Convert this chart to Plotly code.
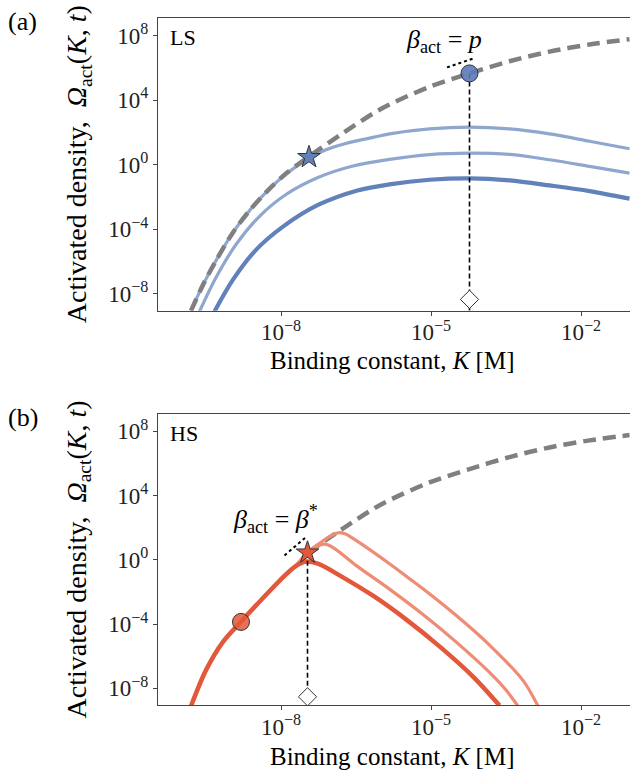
import numpy as np
import plotly.graph_objects as go

# ---------------- data (log10 values) ----------------
# envelope (gray dashed)
env_logK = [-9.80, -9.56, -9.30, -8.96, -8.63, -8.30, -7.90, -7.46, -6.74, -6.14, -5.83, -5.03, -4.23, -3.43, -2.63, -1.83, -1.03]
env_logO = [-9.05, -7.45, -5.95, -4.20, -2.85, -1.72, -0.55, 0.46, 2.00, 3.20, 3.72, 4.82, 5.65, 6.40, 7.00, 7.44, 7.77]

# LS panel (a)
ls_top_logK = [-9.80, -9.56, -9.30, -8.96, -8.63, -8.30, -7.90, -7.46, -7.10, -6.74, -6.14, -5.83, -5.03, -4.23, -3.43, -2.63, -1.83, -1.03]
ls_top_logO = [-9.05, -7.45, -5.95, -4.20, -2.85, -1.72, -0.58, 0.36, 0.92, 1.28, 1.70, 1.90, 2.21, 2.32, 2.21, 1.90, 1.45, 0.98]
ls_mid_logK = [-9.63, -9.30, -8.90, -8.43, -7.90, -7.26, -6.60, -5.83, -5.03, -4.23, -3.43, -2.63, -1.83, -1.03]
ls_mid_logO = [-9.10, -7.00, -4.95, -3.20, -1.85, -0.80, -0.12, 0.32, 0.62, 0.71, 0.63, 0.30, -0.11, -0.53]
ls_dark_logK = [-9.33, -8.96, -8.50, -7.96, -7.26, -6.47, -5.83, -5.03, -4.23, -3.43, -2.63, -1.83, -1.03]
ls_dark_logO = [-9.10, -7.13, -5.28, -3.84, -2.50, -1.60, -1.22, -0.94, -0.85, -0.98, -1.29, -1.64, -2.11]

# HS panel (b)
hs_c1_logK = [-9.80, -9.50, -9.16, -8.80, -8.43, -8.03, -7.72, -7.50, -7.25, -6.83, -6.16, -5.50, -4.83, -4.16, -3.63]
hs_c1_logO = [-9.10, -6.86, -5.10, -3.85, -2.60, -1.30, -0.42, -0.10, -0.25, -0.96, -2.23, -3.70, -5.38, -7.26, -9.06]
hs_c2_logK = [-8.03, -7.72, -7.47, -7.28, -7.12, -6.95, -6.50, -5.83, -5.16, -4.50, -3.83, -3.50, -3.26]
hs_c2_logO = [-1.30, -0.42, 0.45, 0.85, 0.98, 0.75, -0.34, -1.82, -3.40, -5.10, -7.00, -8.10, -9.10]
hs_c3_logK = [-8.03, -7.72, -7.47, -7.20, -6.95, -6.85, -6.72, -6.50, -5.83, -5.43, -5.16, -4.50, -3.83, -3.16, -2.86]
hs_c3_logO = [-1.30, -0.42, 0.46, 1.10, 1.58, 1.69, 1.62, 1.21, -0.24, -1.17, -1.80, -3.45, -5.30, -7.50, -9.10]

# markers (logK, logOmega)
ls_star = (-7.44, 0.46)
ls_circle = (-4.23, 5.65)
ls_diamond = (-4.23, -8.35)
hs_star = (-7.47, 0.45)
hs_circle = (-8.80, -3.86)
hs_diamond = (-7.47, -8.52)

ls_tangent_logK = [-4.68, -4.13]
ls_tangent_logO = [6.02, 6.60]
hs_tangent_logK = [-7.93, -7.50]
hs_tangent_logO = [0.28, 1.42]

x_tick_exp = [-8, -5, -2]
y_tick_exp = [-8, -4, 0, 4, 8]
x_range = [-10.46, -1.02]
y_range = [-9.05, 9.1]

# ---------------- styles ----------------
FONT = "Liberation Serif"
GRAY = "#808080"
BLUE_LIGHT = "#8fa7cf"
BLUE_DARK = "#6081b9"
RED = "#e3583a"
RED_LIGHT = "#ef8c74"


def p(v):
    return np.power(10.0, np.asarray(v, dtype=float))


fig = go.Figure()


def line(lk, lo, color, width, dash=None, sub=""):
    fig.add_trace(go.Scatter(x=p(lk), y=p(lo), mode="lines",
                             line=dict(color=color, width=width, dash=dash, shape="spline", smoothing=0.9),
                             xaxis="x" + sub, yaxis="y" + sub, showlegend=False, hoverinfo="skip"))


def marker(pt, symbol, fill, size, sub=""):
    fig.add_trace(go.Scatter(x=p([pt[0]]), y=p([pt[1]]), mode="markers",
                             marker=dict(symbol=symbol, color=fill, size=size, line=dict(color="#333333", width=1)),
                             xaxis="x" + sub, yaxis="y" + sub, showlegend=False, hoverinfo="skip"))


def vline(k, top, sub=""):
    fig.add_trace(go.Scatter(x=p([k, k]), y=p([top, y_range[0]]), mode="lines",
                             line=dict(color="black", width=1.6, dash="5px,3px"),
                             xaxis="x" + sub, yaxis="y" + sub, showlegend=False, hoverinfo="skip"))


def dotted(lk, lo, sub=""):
    fig.add_trace(go.Scatter(x=p(lk), y=p(lo), mode="lines", line=dict(color="black", width=2, dash="dot"),
                             xaxis="x" + sub, yaxis="y" + sub, showlegend=False, hoverinfo="skip"))


# ---- panel (a) LS ----
line(ls_dark_logK, ls_dark_logO, BLUE_DARK, 4.2)
line(ls_mid_logK, ls_mid_logO, BLUE_LIGHT, 3.2)
line(ls_top_logK, ls_top_logO, BLUE_LIGHT, 3.2)
line(env_logK, env_logO, GRAY, 4.5, dash="13px,7px")
vline(ls_circle[0], ls_circle[1])
dotted(ls_tangent_logK, ls_tangent_logO)
marker(ls_diamond, "diamond", "white", 14)
marker(ls_star, "star", BLUE_DARK, 17)
marker(ls_circle, "circle", "rgba(90,122,183,0.9)", 17)

# ---- panel (b) HS ----
env_b_K = [k for k in env_logK if k >= hs_star[0] - 0.02]
env_b_O = [o for k, o in zip(env_logK, env_logO) if k >= hs_star[0] - 0.02]
line(env_b_K, env_b_O, GRAY, 4.5, dash="13px,7px", sub="2")
line(hs_c3_logK, hs_c3_logO, RED_LIGHT, 3.2, sub="2")
line(hs_c2_logK, hs_c2_logO, RED_LIGHT, 3.2, sub="2")
line(hs_c1_logK, hs_c1_logO, RED, 4.5, sub="2")
vline(hs_star[0], hs_star[1], sub="2")
dotted(hs_tangent_logK, hs_tangent_logO, sub="2")
marker(hs_diamond, "diamond", "white", 14, sub="2")
marker(hs_circle, "circle", "rgba(227,88,58,0.85)", 17, sub="2")
marker(hs_star, "star", RED, 17, sub="2")

# ---------------- axes ----------------
W, H = 630, 772
xdom = [158 / W, 1.0]
ydom_a = [1 - 310.7 / H, 1 - 17.7 / H]
ydom_b = [1 - 705.3 / H, 1 - 413.7 / H]

xticktext = [f"10<sup>{'−' if e < 0 else ''}{abs(e)}</sup>" for e in x_tick_exp]
yticktext = [f"10<sup>{'−' if e < 0 else ''}{abs(e)}</sup>" for e in y_tick_exp]

axis_common = dict(type="log", showgrid=False, zeroline=False, showline=True, linecolor="#444444", linewidth=1.3,
                   ticks="outside", ticklen=4, tickwidth=1, tickcolor="#444444",
                   tickfont=dict(family=FONT, size=23, color="#222222"))

xa = dict(axis_common, domain=xdom, range=x_range, tickvals=list(p(x_tick_exp)), ticktext=xticktext,
          mirror=True, ticklabelstandoff=-3)
ya = dict(axis_common, range=y_range, tickvals=list(p(y_tick_exp)), ticktext=yticktext, mirror=False)

fig.update_layout(
    width=W, height=H,
    margin=dict(l=0, r=0, t=0, b=0),
    paper_bgcolor="white", plot_bgcolor="white",
    font=dict(family=FONT, color="black"),
    xaxis=dict(xa, anchor="y"),
    yaxis=dict(ya, domain=ydom_a, anchor="x"),
    xaxis2=dict(xa, anchor="y2"),
    yaxis2=dict(ya, domain=ydom_b, anchor="x2"),
)

ann = []
ytitle = "Activated density,  <i>Ω</i><sub>act</sub>(<i>K</i>, <i>t</i>)"
xtitle = "Binding constant, <i>K</i> [M]"
for ydom, label, tag, ty in [(ydom_a, "(a)", "LS", 360), (ydom_b, "(b)", "HS", 756)]:
    ymid = (ydom[0] + ydom[1]) / 2
    ann.append(dict(text=ytitle, x=78 / W, y=ymid, xref="paper", yref="paper", textangle=-90,
                    showarrow=False, font=dict(size=28, family=FONT), xanchor="center", yanchor="middle"))
    ann.append(dict(text=xtitle, x=392 / W, y=1 - ty / H, xref="paper", yref="paper",
                    showarrow=False, font=dict(size=25, family=FONT), xanchor="center", yanchor="middle"))
    ann.append(dict(text=label, x=6 / W, y=ydom[1] - 4 / H, xref="paper", yref="paper",
                    showarrow=False, font=dict(size=26, family=FONT), xanchor="left", yanchor="middle"))
    ann.append(dict(text=tag, x=(xdom[0] + 10 / W), y=ydom[1] - 20 / H, xref="paper", yref="paper",
                    showarrow=False, font=dict(size=22, family=FONT), xanchor="left", yanchor="middle"))

ann.append(dict(text="<i>β</i><sub>act</sub> = <i>p</i>", x=-4.75, y=7.63, xref="x", yref="y",
                showarrow=False, font=dict(size=26, family=FONT), xanchor="center", yanchor="middle"))
ann.append(dict(text="<i>β</i><sub>act</sub> = <i>β</i><sup>*</sup>", x=-8.12, y=2.52, xref="x2", yref="y2",
                showarrow=False, font=dict(size=26, family=FONT), xanchor="center", yanchor="middle"))
fig.update_layout(annotations=ann)

fig.write_html("out.html")
